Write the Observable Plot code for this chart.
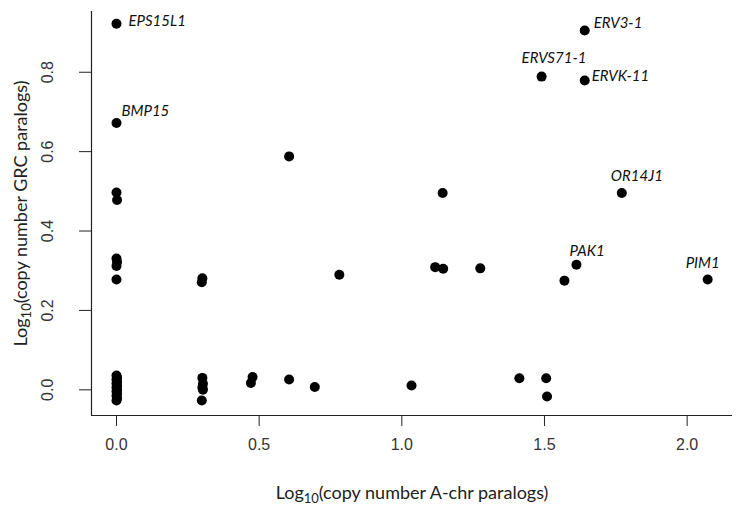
<!DOCTYPE html>
<html><head><meta charset="utf-8">
<script src="https://cdn.jsdelivr.net/npm/d3@7"></script>
<script src="https://cdn.jsdelivr.net/npm/@observablehq/plot@0.6"></script>
<style>body{margin:0;background:#fff}</style>
</head><body><div id="chart"></div>
<script>
// Unlabelled points (log10 copy numbers)
const pointX = [
  0, 0.002, 0, 0.002, 0, 0,
  0, 0.002, 0, 0.002, 0, 0.002, 0, 0.002, 0, 0.002, 0, 0.002, 0,
  0.301, 0.299, 0.301, 0.303, 0.301, 0.303, 0.299,
  0.477, 0.471,
  0.605, 0.605,
  0.695, 0.781, 1.034,
  1.117, 1.145, 1.143, 1.275,
  1.412, 1.506, 1.509, 1.570
];
const pointY = [
  0.497, 0.478, 0.331, 0.322, 0.312, 0.278,
  0.036, 0.031, 0.026, 0.021, 0.016, 0.011, 0.006, 0.001, -0.004, -0.009, -0.015, -0.021, -0.027,
  0.281, 0.271, 0.030, 0.015, 0.006, 0.000, -0.027,
  0.032, 0.017,
  0.588, 0.026,
  0.007, 0.290, 0.011,
  0.309, 0.305, 0.496, 0.306,
  0.029, 0.029, -0.017, 0.275
];
// Labelled genes
const labelNames = ["EPS15L1", "BMP15", "ERV3-1", "ERVS71-1", "ERVK-11", "OR14J1", "PAK1", "PIM1"];
const labelX = [0, 0, 1.641, 1.490, 1.641, 1.771, 1.612, 2.072];
const labelY = [0.922, 0.672, 0.905, 0.789, 0.779, 0.496, 0.315, 0.278];

const xTicks = [0, 0.5, 1, 1.5, 2];
const yTicks = [0, 0.2, 0.4, 0.6, 0.8];
const xTitle = "Log10(copy number A-chr paralogs)";
const yTitle = "Log10(copy number GRC paralogs)";

const xDomain = [-0.0876, 2.159];
const yDomain = [-0.0647, 0.953];

const points = pointX.map((x, i) => ({x, y: pointY[i]}));
const labelled = labelNames.map((name, i) => ({name, x: labelX[i], y: labelY[i]}));

// label placement offsets (styling)
const offsets = {
  "EPS15L1": [12, -3], "BMP15": [5, -12], "ERV3-1": [9, -7], "ERVS71-1": [-20, -18],
  "ERVK-11": [7, -4], "OR14J1": [-11, -17], "PAK1": [-7, -14], "PIM1": [-22, -16]
};

const titleFont = "Lato, 'Open Sans', sans-serif";
const fmt = d3.format(".1f");

const plot = Plot.plot({
  width: 736, height: 515,
  marginLeft: 91, marginRight: 4, marginTop: 11, marginBottom: 100,
  x: {domain: xDomain},
  y: {domain: yDomain},
  style: {fontFamily: "'Liberation Sans', Arial, sans-serif", background: "#fff", overflow: "visible"},
  marks: [
    Plot.ruleX([xDomain[0]], {y1: yDomain[0], y2: yDomain[1], stroke: "#222", strokeWidth: 1.2}),
    Plot.ruleY([yDomain[0]], {x1: xDomain[0], x2: xDomain[1], stroke: "#222", strokeWidth: 1.2}),
    Plot.axisX({ticks: xTicks, tickSize: 11, tickPadding: 12, tickFormat: fmt, fontSize: 16, color: "#333", stroke: "#222", label: null}),
    Plot.axisY({ticks: yTicks, tickSize: 12, tickFormat: () => "", stroke: "#222", label: null}),
    Plot.text(yTicks, {frameAnchor: "left", y: d => d, text: d => fmt(d), rotate: -90, dx: -44, textAnchor: "middle", lineAnchor: "middle", fontSize: 16, fill: "#333"}),
    Plot.text([xTitle], {frameAnchor: "bottom", text: d => d, dy: 78, lineAnchor: "middle", fontSize: 18, fontFamily: titleFont, fill: "#222"}),
    Plot.text([yTitle], {frameAnchor: "left", text: d => d, dx: -70, rotate: -90, textAnchor: "middle", lineAnchor: "middle", fontSize: 18, fontFamily: titleFont, fill: "#222"}),
    Plot.dot(points, {x: "x", y: "y", r: 5, fill: "#000", stroke: "none"}),
    Plot.dot(labelled, {x: "x", y: "y", r: 5, fill: "#000", stroke: "none"}),
    ...labelled.map(d => Plot.text([d], {x: "x", y: "y", text: "name", dx: offsets[d.name][0], dy: offsets[d.name][1], textAnchor: "start", lineAnchor: "middle", fontSize: 15, fontStyle: "italic", fontFamily: titleFont, fill: "#111"}))
  ]
});
document.getElementById("chart").appendChild(plot);

// subscript "10" in the axis titles
d3.select(plot).selectAll("text").each(function() {
  const t = this.textContent;
  if (t.startsWith("Log10")) {
    const el = d3.select(this);
    el.text(null);
    el.append("tspan").text("Log");
    el.append("tspan").attr("dy", 4).attr("font-size", 13).text("10");
    el.append("tspan").attr("dy", -4).text(t.slice(5));
  }
});
</script>
</body></html>
